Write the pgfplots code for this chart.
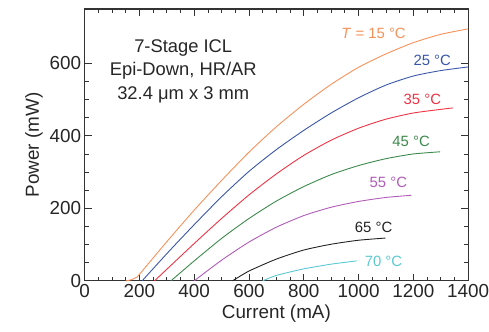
\documentclass[border=0pt]{standalone}
\usepackage{pgfplots}
\pgfplotsset{compat=1.18}
\usepackage{fontspec}
\setmainfont{Liberation Sans}
\definecolor{corange}{HTML}{F7915A}
\definecolor{cblue}{HTML}{3A56A8}
\definecolor{cred}{HTML}{EE3344}
\definecolor{cgreen}{HTML}{3C8A4C}
\definecolor{cpurple}{HTML}{B05CB8}
\definecolor{cblack}{HTML}{222222}
\definecolor{ccyan}{HTML}{5CC8D2}
\begin{document}
\begin{tikzpicture}
\begin{axis}[name=ax, scale only axis, width=385bp, height=273bp,
  xmin=0, xmax=1400, ymin=0, ymax=750,
  xtick={0,200,...,1400}, ytick={0,200,400,600},
  minor x tick num=3, minor y tick num=3,
  tick align=inside, major tick length=7bp, minor tick length=4bp,
  axis line style={line width=1.1pt, color=black!80},
  every tick/.style={black!80, line width=0.8pt},
  tick label style={font=\fontsize{19}{22}\selectfont, text=black!85},
  /pgf/number format/assume math mode=true,
  /pgf/number format/1000 sep={},
  xlabel={Current (mA)}, ylabel={Power (mW)},
  label style={font=\fontsize{19}{22}\selectfont, text=black!85},
  every axis plot/.style={line width=0.9pt, smooth, tension=0.4, no marks},
  clip=false]
\addplot[corange] coordinates {(150,0)(170,3)(190,10)(200,18)(300,108)(400,195)(500,277)(600,355)(700,425)(800,487)(900,542)(1000,589)(1100,626)(1200,657)(1300,680)(1400,695)};
\addplot[cblue] coordinates {(210,0)(300,75)(400,155)(500,232)(600,302)(700,362)(800,415)(900,463)(1000,505)(1100,540)(1200,565)(1300,580)(1400,590)};
\addplot[cred] coordinates {(255,0)(300,32)(400,103)(500,172)(600,237)(700,295)(800,346)(900,388)(1000,421)(1100,446)(1200,463)(1300,473)(1345,477)};
\addplot[cgreen] coordinates {(315,0)(400,55)(500,117)(600,172)(700,220)(800,260)(900,293)(1000,318)(1100,337)(1200,350)(1298,356)};
\addplot[cpurple] coordinates {(400,0)(500,57)(600,107)(700,148)(800,180)(900,203)(1000,219)(1100,230)(1193,236)};
\addplot[cblack] coordinates {(540,0)(600,27)(700,60)(800,85)(900,101)(1000,112)(1098,118)};
\addplot[ccyan] coordinates {(650,0)(700,15)(800,33)(900,46)(993,55)};
\begin{scope}[every node/.style={font=\fontsize{15}{18}\selectfont}]
\node[corange] at (axis cs:1055,682) {\textit{T} = 15 °C};
\node[cblue] at (axis cs:1269,608) {25 °C};
\node[cred] at (axis cs:1233,501) {35 °C};
\node[cgreen] at (axis cs:1192,384) {45 °C};
\node[cpurple] at (axis cs:1109,271) {55 °C};
\node[cblack] at (axis cs:1055,148) {65 °C};
\node[ccyan] at (axis cs:1091,55) {70 °C};
\end{scope}
\node[align=center, font=\fontsize{18.5}{23.5}\selectfont, text=black!85] at (axis cs:360,578) {7-Stage ICL\\Epi-Down, HR/AR\\32.4 μm x 3 mm};
\end{axis}
\pgfresetboundingbox
\useasboundingbox ([xshift=-85bp,yshift=-51bp]ax.south west) rectangle ([xshift=21bp,yshift=9bp]ax.north east);
\end{tikzpicture}
\end{document}
